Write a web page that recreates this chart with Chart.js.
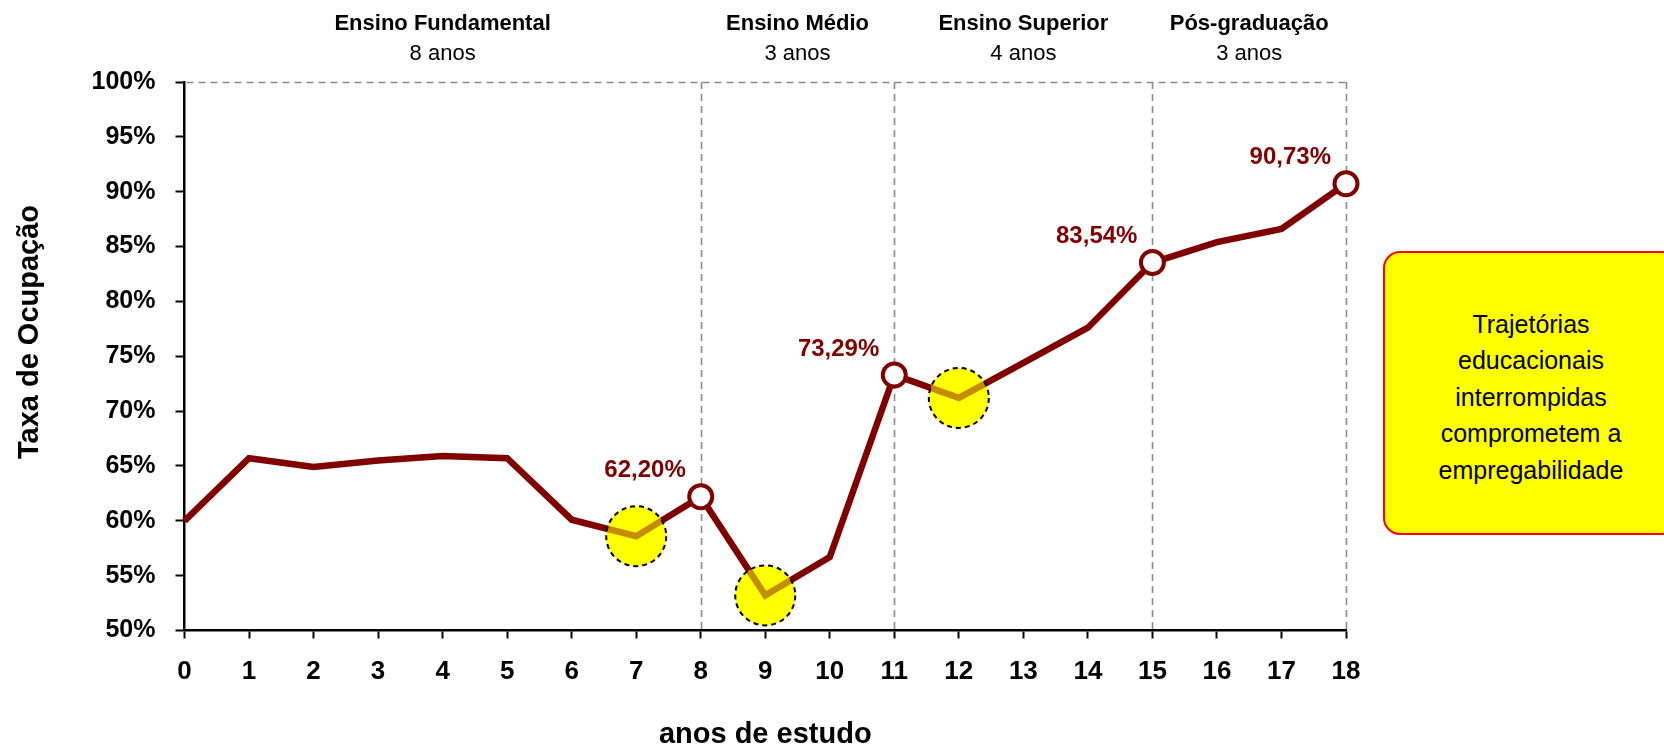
<!DOCTYPE html>
<html><head><meta charset="utf-8">
<script src="https://cdn.jsdelivr.net/npm/chart.js@4/dist/chart.umd.min.js"></script>
<style>
html,body{margin:0;padding:0;background:#fff;overflow:hidden;}
#wrap{position:relative;width:1664px;height:748px;}
#note{position:absolute;left:1383px;top:251px;width:296px;height:284px;box-sizing:border-box;border:2px solid #ff0000;border-radius:17px;background:#ffff00;display:flex;align-items:center;justify-content:center;text-align:center;font-family:"Liberation Sans",Arial,sans-serif;font-size:25px;line-height:36.5px;color:#000;padding-top:8px;}
</style></head><body>
<div id="wrap"><canvas id="c" width="1664" height="748"></canvas>
<div id="note">Trajetórias<br>educacionais<br>interrompidas<br>comprometem a<br>empregabilidade</div></div>
<script>
const anosDeEstudo = ['0','1','2','3','4','5','6','7','8','9','10','11','12','13','14','15','16','17','18'];
const taxaOcupacao = [60.0, 65.7, 64.9, 65.5, 65.9, 65.7, 60.1, 58.6, 62.20, 53.2, 56.7, 73.29, 71.2, 74.4, 77.6, 83.54, 85.4, 86.6, 90.73];
const yTickValues = [50, 55, 60, 65, 70, 75, 80, 85, 90, 95, 100];
const pontosMarcados = [8, 11, 15, 18];
const pontosDestacados = [7, 9, 12];
const etapas = ['Ensino Fundamental', 'Ensino Médio', 'Ensino Superior', 'Pós-graduação'];
const duracoes = ['8 anos', '3 anos', '4 anos', '3 anos'];
const limitesEtapas = [0, 8, 11, 15, 18];
const tituloY = 'Taxa de Ocupação';
const tituloX = 'anos de estudo';

const FONT = '"Liberation Sans", Arial, sans-serif';
const RED = '#800000';
const fmt = v => v.toFixed(2).replace('.', ',') + '%';

const overlay = {
  id: 'overlay',
  beforeDatasetsDraw(chart) {
    const {ctx, chartArea: a, scales: {x, y}} = chart;
    const yTop = y.getPixelForValue(100);
    ctx.save();
    ctx.strokeStyle = '#8a8a8a'; ctx.lineWidth = 1.6; ctx.setLineDash([7, 5]);
    ctx.beginPath(); ctx.moveTo(a.left + 2, Math.round(yTop) + 0.5); ctx.lineTo(x.getPixelForValue(18), Math.round(yTop) + 0.5); ctx.stroke();
    limitesEtapas.slice(1).forEach(v => {
      const px = Math.round(x.getPixelForValue(v)) + 0.5;
      ctx.beginPath(); ctx.moveTo(px, yTop); ctx.lineTo(px, a.bottom); ctx.stroke();
    });
    ctx.restore();
    const meta = chart.getDatasetMeta(0);
    ctx.save(); ctx.fillStyle = '#ffff00';
    pontosDestacados.forEach(i => { const p = meta.data[i]; ctx.beginPath(); ctx.arc(p.x, p.y, 30, 0, Math.PI * 2); ctx.fill(); });
    ctx.restore();
  },
  afterDatasetsDraw(chart) {
    const {ctx} = chart;
    const meta = chart.getDatasetMeta(0);
    ctx.save();
    pontosDestacados.forEach(i => {
      const p = meta.data[i];
      ctx.beginPath(); ctx.arc(p.x, p.y, 30, 0, Math.PI * 2);
      ctx.fillStyle = 'rgba(255,255,0,0.55)'; ctx.fill();
      ctx.setLineDash([5, 4]); ctx.lineWidth = 2; ctx.strokeStyle = '#000'; ctx.stroke();
    });
    ctx.restore();
    ctx.save();
    ctx.font = 'bold 24px ' + FONT; ctx.fillStyle = RED; ctx.textAlign = 'right'; ctx.textBaseline = 'middle';
    pontosMarcados.forEach(i => { const p = meta.data[i]; ctx.fillText(fmt(taxaOcupacao[i]), p.x - 15, p.y - 26); });
    ctx.restore();
  },
  afterDraw(chart) {
    const {ctx, scales: {x, y}} = chart;
    ctx.save();
    ctx.fillStyle = '#000'; ctx.textAlign = 'center'; ctx.textBaseline = 'middle';
    etapas.forEach((t, k) => {
      const cx = (x.getPixelForValue(limitesEtapas[k]) + x.getPixelForValue(limitesEtapas[k + 1])) / 2;
      ctx.font = 'bold 22px ' + FONT; ctx.fillText(t, cx, 24);
      ctx.font = '22px ' + FONT; ctx.fillText(duracoes[k], cx, 54);
    });
    ctx.translate(30, 332); ctx.rotate(-Math.PI / 2);
    ctx.font = 'bold 29px ' + FONT; ctx.fillText(tituloY, 0, 0);
    ctx.restore();
  }
};

new Chart(document.getElementById('c'), {
  type: 'line',
  data: {
    labels: anosDeEstudo,
    datasets: [{
      data: taxaOcupacao,
      borderColor: RED, borderWidth: 6.5, borderJoinStyle: 'miter', tension: 0,
      pointRadius: taxaOcupacao.map((v, i) => pontosMarcados.includes(i) ? 11.5 : 0),
      pointHoverRadius: 0,
      pointBackgroundColor: '#fff', pointBorderColor: RED, pointBorderWidth: 4,
      clip: 20
    }]
  },
  options: {
    responsive: false, animation: false, devicePixelRatio: 1,
    layout: {padding: {top: 82, right: 318, left: 0, bottom: 0}},
    plugins: {legend: {display: false}, tooltip: {enabled: false}},
    scales: {
      x: {
        offset: false,
        grid: {drawOnChartArea: false, drawTicks: true, tickLength: 8, tickColor: '#000', tickWidth: 2},
        border: {color: '#000', width: 2.5},
        ticks: {color: '#000', font: {family: FONT, size: 26, weight: 'bold'}, padding: 18, maxRotation: 0, autoSkip: false},
        title: {display: true, text: tituloX, color: '#000', font: {family: FONT, size: 29, weight: 'bold', lineHeight: 1}, padding: {top: 0, bottom: -1}},
        afterFit(s) { s.height = 117.5; }
      },
      y: {
        min: 50, max: 100,
        afterBuildTicks(s) { s.ticks = yTickValues.map(v => ({value: v})); },
        grid: {drawOnChartArea: false, drawTicks: true, tickLength: 9, tickColor: '#000', tickWidth: 2},
        border: {color: '#000', width: 2.5},
        ticks: {color: '#000', font: {family: FONT, size: 25, weight: 'bold'}, padding: 20, callback: v => v + '%'},
        afterFit(s) { s.width = 184.5; }
      }
    }
  },
  plugins: [overlay]
});
</script>
</body></html>
